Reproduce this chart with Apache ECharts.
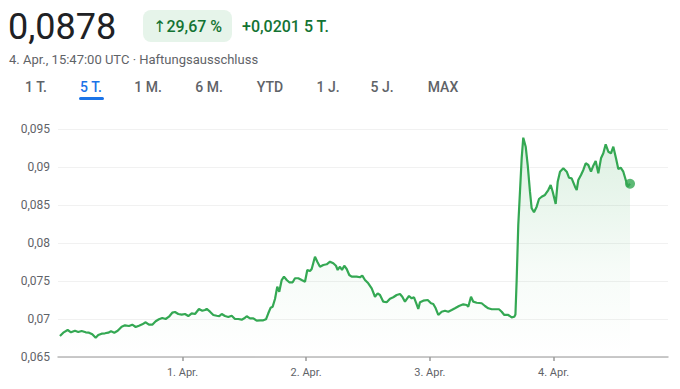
<!DOCTYPE html>
<html><head><meta charset="utf-8">
<script src="https://cdn.jsdelivr.net/npm/echarts@6/dist/echarts.min.js"></script>
<style>html,body{margin:0;padding:0;background:#fff}#c{width:680px;height:389px}</style>
</head><body><div id="c"></div>
<script>
// hours since 31 Mar 00:00 UTC
const hours = [0.23,0.87,1.73,2.37,3.14,3.78,4.44,5.22,5.86,6.50,7.16,7.66,8.32,8.96,9.60,10.13,10.77,11.43,12.20,12.84,13.62,14.26,14.92,15.56,16.20,16.86,17.50,18.14,18.80,19.44,20.08,20.74,21.38,22.02,22.55,23.19,23.85,24.49,25.13,25.79,26.43,27.20,27.84,28.37,28.70,29.34,29.98,30.64,31.14,31.61,32.25,32.89,33.55,34.19,34.83,35.49,35.99,36.46,37.10,37.74,38.40,39.04,39.68,40.20,40.65,41.11,41.50,41.95,42.39,42.78,43.25,43.69,44.22,44.72,45.38,45.83,46.47,47.13,47.77,48.22,48.74,49.07,49.71,50.16,50.68,51.32,51.98,52.62,53.26,53.78,54.11,54.56,54.95,55.39,55.86,56.36,56.83,57.80,58.44,58.89,59.41,60.05,60.71,61.35,61.87,62.32,62.96,63.62,64.26,64.90,65.56,66.20,66.65,67.17,67.95,68.47,68.92,69.31,69.75,70.08,70.72,71.58,72.22,72.66,73.13,73.63,74.29,74.93,75.57,76.23,76.87,77.65,78.48,79.14,79.45,79.98,80.42,81.08,82.05,82.69,83.33,83.99,84.63,85.41,85.93,86.44,87.21,87.87,88.38,88.60,88.84,89.15,89.48,89.81,90.12,90.59,90.98,91.42,91.75,92.20,92.72,93.17,93.69,94.33,94.97,95.44,95.83,96.41,96.80,97.25,97.89,98.55,98.99,99.51,100.16,100.49,100.80,101.32,101.77,102.23,102.74,103.26,103.71,104.17,104.68,105.20,105.65,106.11,106.62,107.14,107.59,108.11,108.56,109.02,109.53,110.00,110.38,110.83];
const prices = [0.06776,0.06820,0.06855,0.06825,0.06846,0.06829,0.06842,0.06825,0.06820,0.06799,0.06754,0.06789,0.06807,0.06812,0.06820,0.06838,0.06820,0.06846,0.06899,0.06917,0.06908,0.06925,0.06895,0.06912,0.06930,0.06957,0.06925,0.06925,0.06970,0.06996,0.07013,0.07000,0.07030,0.07083,0.07092,0.07066,0.07057,0.07066,0.07039,0.07075,0.07066,0.07132,0.07109,0.07118,0.07132,0.07096,0.07053,0.07043,0.07039,0.07066,0.07039,0.07026,0.07043,0.07000,0.07000,0.06991,0.07009,0.07036,0.07009,0.07009,0.06978,0.06983,0.06983,0.06996,0.07075,0.07149,0.07162,0.07263,0.07425,0.07359,0.07513,0.07557,0.07513,0.07483,0.07483,0.07536,0.07536,0.07513,0.07491,0.07645,0.07632,0.07658,0.07820,0.07754,0.07688,0.07711,0.07720,0.07754,0.07733,0.07701,0.07645,0.07688,0.07645,0.07701,0.07658,0.07579,0.07557,0.07557,0.07549,0.07570,0.07513,0.07470,0.07404,0.07293,0.07338,0.07316,0.07228,0.07220,0.07267,0.07286,0.07316,0.07329,0.07293,0.07228,0.07303,0.07272,0.07286,0.07214,0.07132,0.07220,0.07241,0.07250,0.07207,0.07197,0.07141,0.07053,0.07096,0.07109,0.07096,0.07118,0.07141,0.07171,0.07193,0.07184,0.07162,0.07293,0.07228,0.07214,0.07207,0.07171,0.07141,0.07128,0.07128,0.07128,0.07096,0.07053,0.07053,0.07022,0.07030,0.07060,0.07513,0.08237,0.08675,0.09114,0.09386,0.09267,0.09026,0.08675,0.08457,0.08404,0.08478,0.08579,0.08609,0.08632,0.08697,0.08763,0.08675,0.08513,0.08807,0.08938,0.08983,0.08938,0.08859,0.08851,0.08741,0.08697,0.08829,0.08895,0.08961,0.09049,0.09026,0.08938,0.09017,0.09079,0.08917,0.09114,0.09180,0.09299,0.09201,0.09180,0.09267,0.09114,0.08974,0.08991,0.08938,0.08829,0.08741,0.08780];
const dayTicks = [24, 48, 72, 96];
const dayLabels = ['1. Apr.', '2. Apr.', '3. Apr.', '4. Apr.'];
const yMin = 0.065, yMax = 0.095, yStep = 0.005;
const xMin = -0.15, xMax = 118.2;
const priceText = '0,0878';
const changePct = '↑29,67 %';
const changeAbs = '+0,0201 5 T.';
const subtitle = '4. Apr., 15:47:00 UTC · Haftungsausschluss';
const tabs = ['1 T.', '5 T.', '1 M.', '6 M.', 'YTD', '1 J.', '5 J.', 'MAX'];
const activeTab = 1;

const GREEN = '#34a853';
const FONT = 'Roboto, "DejaVu Sans", sans-serif';
const tabCenters = [36, 91, 148, 209, 270, 328, 382, 443];

const series = hours.map((h, i) => [h, prices[i]]);
const last = series[series.length - 1];

const graphics = [
  { type: 'text', x: 8, y: 27, style: { text: priceText, font: '400 36px ' + FONT, fill: '#202124', verticalAlign: 'middle' } },
  { type: 'rect', shape: { x: 143, y: 10, width: 89, height: 32, r: 8 }, style: { fill: '#e6f4ea' } },
  { type: 'text', x: 153, y: 26, style: { text: changePct, font: '500 16px ' + FONT, fill: '#137333', verticalAlign: 'middle' } },
  { type: 'text', x: 242, y: 26, style: { text: changeAbs, font: '500 16px ' + FONT, fill: '#137333', verticalAlign: 'middle' } },
  { type: 'text', x: 9, y: 59, style: { text: subtitle, font: '400 13px ' + FONT, fill: '#5f6368', verticalAlign: 'middle' } },
  { type: 'rect', shape: { x: 79, y: 97, width: 25, height: 3, r: 1.5 }, style: { fill: '#1a73e8' } }
];
tabs.forEach((t, i) => {
  graphics.push({ type: 'text', x: tabCenters[i], y: 87, style: { text: t, font: '500 14px ' + FONT, fill: i === activeTab ? '#1a73e8' : '#5f6368', align: 'center', verticalAlign: 'middle' } });
});

const chart = echarts.init(document.getElementById('c'), null, { renderer: 'svg' });
chart.setOption({
  animation: false,
  backgroundColor: '#fff',
  grid: { left: 58, right: 12, top: 129, bottom: 32, containLabel: false },
  xAxis: {
    type: 'value', min: xMin, max: xMax,
    axisLine: { show: true, lineStyle: { color: '#b8b8b8', width: 1.5 } },
    axisTick: { show: true, customValues: dayTicks, length: 4, lineStyle: { color: '#9a9a9a', width: 1.5 } },
    axisLabel: { customValues: dayTicks, formatter: v => dayLabels[dayTicks.indexOf(v)], color: '#5f6368', fontSize: 11, fontFamily: FONT, margin: 10 },
    splitLine: { show: false }
  },
  yAxis: {
    type: 'value', min: yMin, max: yMax, interval: yStep,
    axisLine: { show: false }, axisTick: { show: false },
    axisLabel: { formatter: v => String(+v.toFixed(3)).replace('.', ','), color: '#5f6368', fontSize: 12, fontFamily: FONT, margin: 8 },
    splitLine: { lineStyle: { color: '#f1f1f1', width: 1 } }
  },
  series: [
    {
      type: 'line', data: series, showSymbol: false, smooth: false,
      lineStyle: { color: GREEN, width: 2.2 },
      areaStyle: {
        color: new echarts.graphic.LinearGradient(0, 0, 0, 1, [
          { offset: 0, color: 'rgba(52,168,83,0.24)' },
          { offset: 0.6, color: 'rgba(52,168,83,0.06)' },
          { offset: 1, color: 'rgba(52,168,83,0)' }
        ])
      }
    },
    {
      type: 'scatter', data: [last], symbol: 'circle', symbolSize: 10,
      itemStyle: { color: GREEN }, z: 5
    }
  ],
  graphic: graphics
});
</script>
</body></html>
